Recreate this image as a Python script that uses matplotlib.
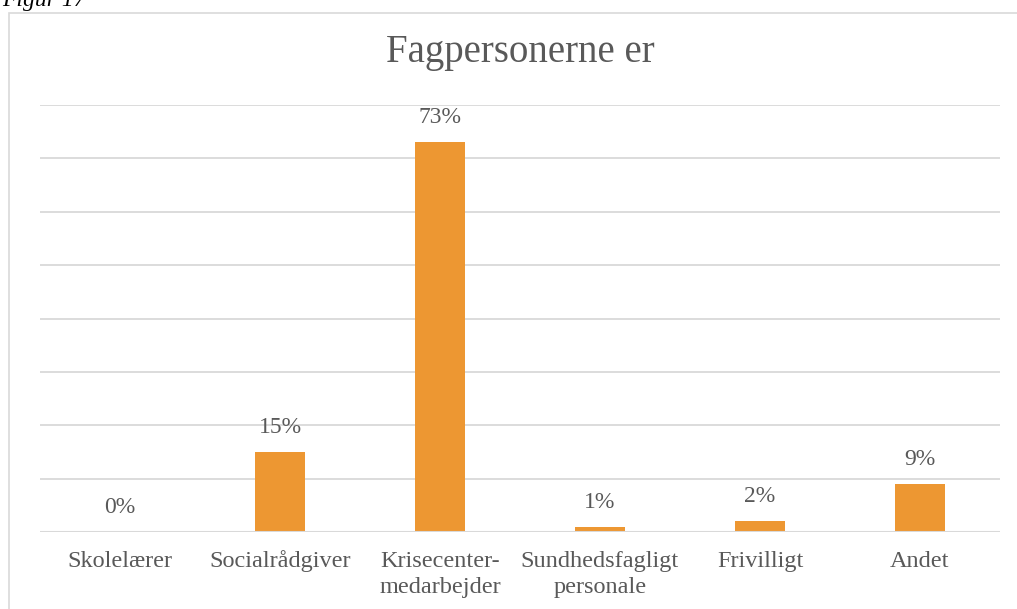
import matplotlib.pyplot as plt
from matplotlib.patches import Rectangle

categories = ["Skolelærer", "Socialrådgiver", "Krisecenter-\nmedarbejder",
              "Sundhedsfagligt\npersonale", "Frivilligt", "Andet"]
values = [0, 15, 73, 1, 2, 9]          # percent
labels = ["0%", "15%", "73%", "1%", "2%", "9%"]
y_ticks = [0, 10, 20, 30, 40, 50, 60, 70, 80]

bar_color = "#ED9732"
text_color = "#595959"
grid_color = "#D9D9D9"
plt.rcParams['font.family'] = ['Liberation Serif', 'DejaVu Serif']

W, H = 1017, 609
fig = plt.figure(figsize=(W / 100, H / 100), dpi=100)

# outer chart frame
fig.patches.append(Rectangle((8.5 / W, -0.01), 1.1, 1 - 12.5 / H + 0.01,
                             transform=fig.transFigure, fill=False,
                             edgecolor=grid_color, linewidth=1.2))
fig.text(2 / W, 1 - 6 / H, "Figur 17", fontsize=17, style='italic',
         color="black", va='baseline', ha='left')

ax = fig.add_axes([40 / W, 1 - 532 / H, 960 / W, (532 - 105) / H])
x = list(range(len(categories)))
ax.bar(x, values, width=0.31, color=bar_color, zorder=3)
ax.set_xlim(-0.5, len(categories) - 0.5)
ax.set_ylim(0, 80)
ax.set_yticks(y_ticks)
ax.yaxis.grid(True, color=grid_color, linewidth=1.3, zorder=0)
ax.tick_params(axis='y', left=False, labelleft=False)
ax.set_xticks(x)
ax.tick_params(axis='x', length=0, labelbottom=False)
for s in ax.spines.values():
    s.set_visible(False)
ax.axhline(0, color=grid_color, linewidth=1.5, zorder=4)

# category labels, one line at a time so all share a baseline
for xi, cat in zip(x, categories):
    for i, line in enumerate(cat.split("\n")):
        ax.annotate(line, (xi, 0), xycoords=('data', 'axes fraction'),
                    xytext=(0, -25.2 - 18.7 * i), textcoords='offset points',
                    ha='center', va='baseline', fontsize=17.5, color=text_color,
                    annotation_clip=False)

for xi, v, lab in zip(x, values, labels):
    ax.annotate(lab, (xi, v), xytext=(0, 10), textcoords='offset points',
                ha='center', va='bottom', fontsize=17, color=text_color)

fig.text((40 + 480) / W, 1 - 62 / H, "Fagpersonerne er", fontsize=28,
         color=text_color, ha='center', va='baseline')

fig.savefig("out.png", dpi=100)
